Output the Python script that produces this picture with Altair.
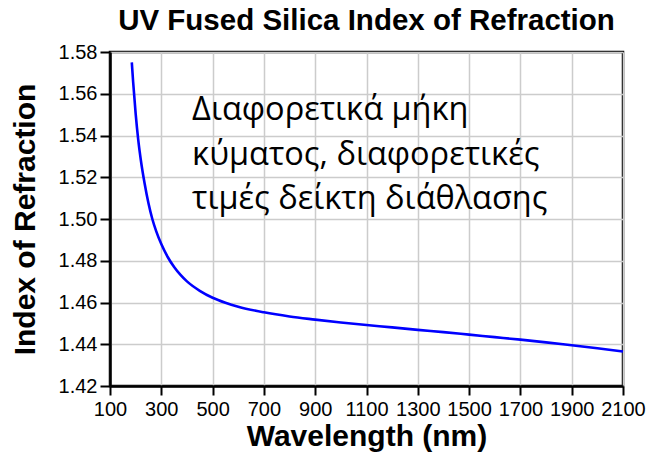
import altair as alt
import pandas as pd

wavelength = [185, 190, 200, 210, 220, 235, 250, 265, 280, 300, 325, 350, 375, 400, 450, 500,
              550, 600, 700, 800, 900, 1000, 1100, 1200, 1300, 1400, 1500, 1600, 1700,
              1800, 1900, 2000, 2100]
index_n = [1.5750, 1.5660, 1.5505, 1.5380, 1.5284, 1.5170, 1.5075, 1.5000, 1.4942, 1.4880,
           1.4818, 1.4770, 1.4732, 1.4701, 1.4656, 1.4623,
           1.4599, 1.4580, 1.4553, 1.4533, 1.4518, 1.4504, 1.4492, 1.4481, 1.4469, 1.4458,
           1.4446, 1.4434, 1.4422, 1.4409, 1.4395, 1.4381, 1.4365]

x_ticks = list(range(100, 2101, 100))
y_ticks = [round(1.42 + 0.01 * i, 2) for i in range(17)]

title_text = "UV Fused Silica Index of Refraction"
x_title = "Wavelength (nm)"
y_title = "Index of Refraction"
note_lines = "Διαφορετικά μήκη\nκύματος, διαφορετικές\nτιμές δείκτη διάθλασης"
note_x = 420
note_y = 1.5474

df = pd.DataFrame({"wl": wavelength, "n": index_n})

x_scale = alt.Scale(domain=[100, 2100], nice=False, zero=False)
y_scale = alt.Scale(domain=[1.42, 1.58], nice=False, zero=False)

x_major = "(datum.value - 100) % 200 == 0"
y_major = "round(datum.value * 100) % 2 == 0"

line = alt.Chart(df).mark_line(color="#0000ff", strokeWidth=2.6, interpolate="monotone").encode(
    x=alt.X("wl:Q", scale=x_scale, title=x_title,
            axis=alt.Axis(values=x_ticks,
                          labelExpr=x_major + " ? datum.value : ''",
                          grid=True, gridColor="#cccccc", gridWidth=1.5,
                          domainColor="black", domainWidth=2.5,
                          tickColor="black", tickWidth=2,
                          tickSize={"condition": {"test": x_major, "value": 9}, "value": 5},
                          labelFont="Liberation Sans", labelFontSize=20, labelColor="black",
                          labelPadding=4, labelFlush=False, labelOverlap=False,
                          titleFont="Liberation Sans", titleFontSize=30, titleFontWeight="bold",
                          titleColor="black", titlePadding=2)),
    y=alt.Y("n:Q", scale=y_scale, title=y_title,
            axis=alt.Axis(values=y_ticks, format=".2f",
                          labelExpr=y_major + " ? format(datum.value, '.2f') : ''",
                          grid=True, gridColor="#cccccc", gridWidth=1.5,
                          domainColor="black", domainWidth=2.5,
                          tickColor="black", tickWidth=2,
                          tickSize={"condition": {"test": y_major, "value": 10}, "value": 5},
                          labelFont="Liberation Sans", labelFontSize=20, labelColor="black",
                          labelPadding=3, labelFlush=False, labelOverlap=False,
                          titleFont="Liberation Sans", titleFontSize=30, titleFontWeight="bold",
                          titleColor="black", titlePadding=18)),
)

note = alt.Chart(pd.DataFrame({"t": [note_lines]})).mark_text(
    align="left", baseline="alphabetic", font="Open Sans", fontSize=32.5,
    lineBreak="\n", lineHeight=44.5, color="black"
).encode(
    x=alt.datum(note_x, scale=x_scale),
    y=alt.datum(note_y, scale=y_scale),
    text="t:N",
)

chart = (line + note).properties(
    width=513, height=334,
    title=alt.Title(title_text, font="Liberation Sans", fontSize=29.5, fontWeight="bold",
                    color="black", anchor="middle", offset=6),
    autosize=alt.AutoSizeParams(type="none"),
    padding={"left": 102, "top": 44, "right": 23, "bottom": 70},
).configure_view(stroke="black", strokeWidth=2.5)

chart.save("out.html", embed_options={"renderer": "svg", "actions": False})
